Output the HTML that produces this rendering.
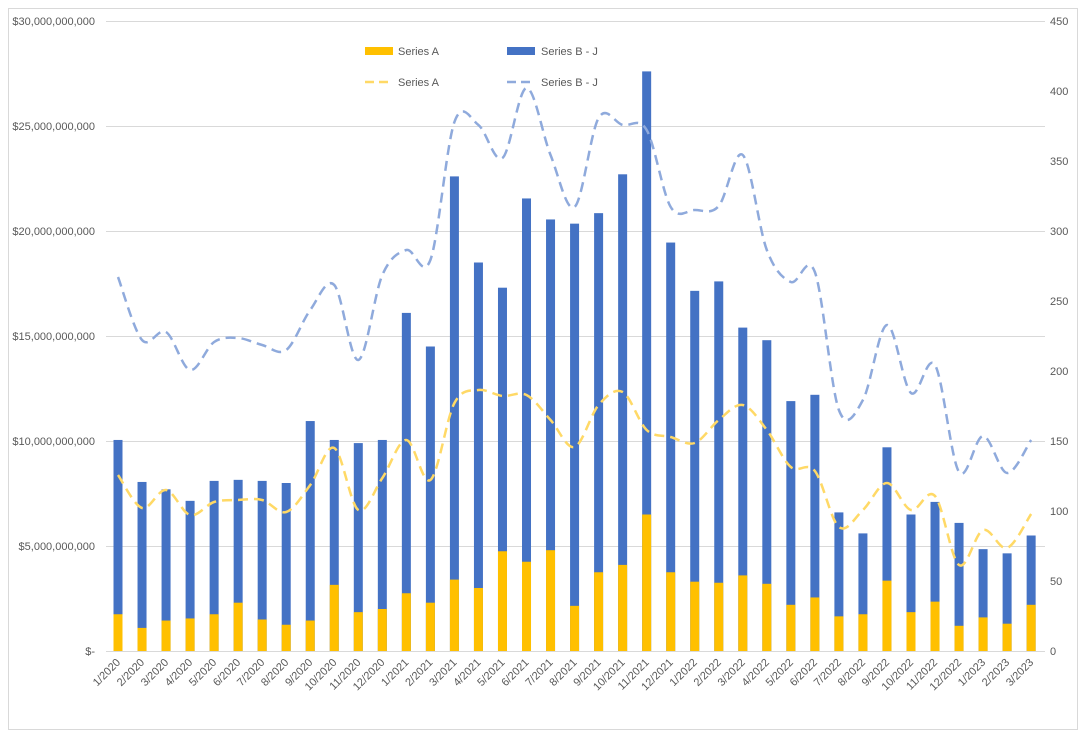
<!DOCTYPE html>
<html><head><meta charset="utf-8"><style>
html,body{margin:0;padding:0;background:#fff;}
svg{display:block;font-family:"Liberation Sans",sans-serif;}
</style></head><body>
<svg id="c" width="1084" height="738" xmlns="http://www.w3.org/2000/svg">
<rect x="8.5" y="8.5" width="1069" height="721" fill="#fff" stroke="#d9d9d9"/>
<g id="grid"></g><g id="bars"></g><g id="lines"></g><g id="labels" font-size="11" fill="#595959"></g>
<g font-size="11" fill="#595959">
<rect x="365" y="47" width="28" height="8" fill="#FFC000"/><text x="398" y="55">Series A</text>
<rect x="507" y="47" width="28" height="8" fill="#4472C4"/><text x="541" y="55">Series B - J</text>
<line x1="365" y1="82" x2="393" y2="82" stroke="#FFD966" stroke-width="2.5" stroke-dasharray="9,5"/><text x="398" y="86">Series A</text>
<line x1="507" y1="82" x2="535" y2="82" stroke="#8FAADC" stroke-width="2.5" stroke-dasharray="9,5"/><text x="541" y="86">Series B - J</text>
</g>
</svg>
<script>
const NS="http://www.w3.org/2000/svg";
function el(p,t,a,txt){const e=document.createElementNS(NS,t);for(const k in a)e.setAttribute(k,a[k]);if(txt!==undefined)e.textContent=txt;document.getElementById(p).appendChild(e);return e;}
const y0=651,pb=21;
const leftL=["$-","$5,000,000,000","$10,000,000,000","$15,000,000,000","$20,000,000,000","$25,000,000,000","$30,000,000,000"];
for(let i=0;i<=6;i++){const y=y0-i*105;
 el("grid","line",{x1:106,x2:1045,y1:y+.5,y2:y+.5,stroke:"#d9d9d9","stroke-width":1});
 el("labels","text",{x:95,y:y+4,"text-anchor":"end"},leftL[i]);
 el("labels","text",{x:1050,y:y+4},String(i*75-(i*75)%1));}
// right labels every 50
document.querySelectorAll("#labels text").forEach(t=>{if(t.getAttribute("x")=="1050")t.remove();});
for(let v=0;v<=450;v+=50){el("labels","text",{x:1050,y:y0-v*1.4+4},String(v));}
const tot=[10.05,8.05,7.7,7.15,8.1,8.15,8.1,8.0,10.95,10.05,9.9,10.05,16.1,14.5,22.6,18.5,17.3,21.55,20.55,20.35,20.85,22.7,27.6,19.45,17.15,17.6,15.4,14.8,11.9,12.2,6.6,5.6,9.7,6.5,7.1,6.1,4.85,4.65,5.5];
const A=[1.75,1.1,1.45,1.55,1.75,2.3,1.5,1.25,1.45,3.15,1.85,2.0,2.75,2.3,3.4,3.0,4.75,4.25,4.8,2.15,3.75,4.1,6.5,3.75,3.3,3.25,3.6,3.2,2.2,2.55,1.65,1.75,3.35,1.85,2.35,1.2,1.6,1.3,2.2];
const LB=[277,340,332,370,342,338,345,350,310,285,360,275,250,260,122,125,158,88,155,207,118,125,130,207,210,206,155,250,282,272,410,400,325,393,365,472,436,473,440];
const LA=[475,508,490,515,502,500,500,512,485,448,510,478,440,480,403,390,396,395,420,447,405,392,430,437,443,420,405,430,467,471,527,510,483,510,496,565,530,548,514];
const xs=i=>118+i*24.03;
for(let i=0;i<39;i++){const x=xs(i);
 el("bars","rect",{x:x-4.5,y:y0-tot[i]*pb,width:9,height:tot[i]*pb,fill:"#4472C4"});
 el("bars","rect",{x:x-4.5,y:y0-A[i]*pb,width:9,height:A[i]*pb,fill:"#FFC000"});
 const m=i%12+1,yr=2020+Math.floor(i/12);
 el("labels","text",{x:x+3,y:y0+12,"text-anchor":"end",transform:`rotate(-45 ${x+3} ${y0+12})`},m+"/"+yr);}
function path(Y){let d=`M${xs(0)},${Y[0]}`;const P=Y.map((y,i)=>[xs(i),y]);
 for(let i=0;i<P.length-1;i++){const p0=P[Math.max(0,i-1)],p1=P[i],p2=P[i+1],p3=P[Math.min(P.length-1,i+2)];const t=6;
 d+=` C${p1[0]+(p2[0]-p0[0])/t},${p1[1]+(p2[1]-p0[1])/t} ${p2[0]-(p3[0]-p1[0])/t},${p2[1]-(p3[1]-p1[1])/t} ${p2[0]},${p2[1]}`;}return d;}
el("lines","path",{d:path(LA),fill:"none",stroke:"#FFD966","stroke-width":2.5,"stroke-dasharray":"10,6"});
el("lines","path",{d:path(LB),fill:"none",stroke:"#8FAADC","stroke-width":2.5,"stroke-dasharray":"10,6"});
</script>
</body></html>
